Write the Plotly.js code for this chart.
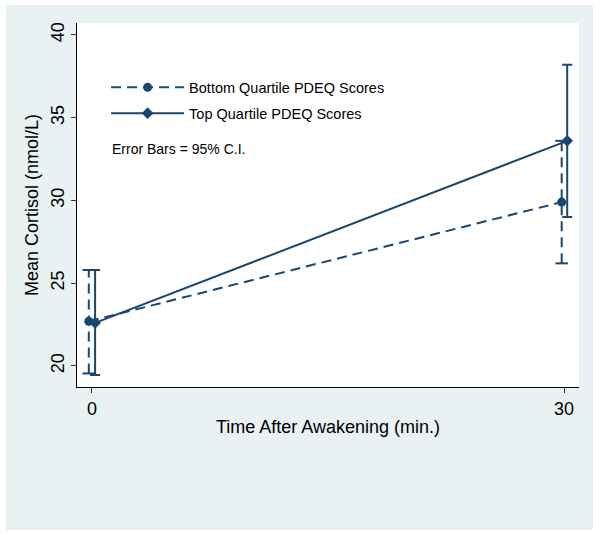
<!DOCTYPE html>
<html>
<head>
<meta charset="utf-8">
<script src="https://cdn.plot.ly/plotly-3.0.1.min.js"></script>
<style>
  html, body { margin: 0; padding: 0; background: #ffffff; width: 601px; height: 535px; overflow: hidden; }
  #chart { position: absolute; left: 6px; top: 5px; width: 587px; height: 525px; }
</style>
</head>
<body>
<div id="chart"></div>
<script>
// ---- data ----
const seriesNames = ["Bottom Quartile PDEQ Scores", "Top Quartile PDEQ Scores"];
const xTickVals = [0, 30];
const xTickText = ["0", "30"];
const yTickVals = [20, 25, 30, 35, 40];
const yTickText = ["20", "25", "30", "35", "40"];

const bottomX = [-0.2, 29.85];
const bottomMean = [22.7, 29.9];
const bottomLo = [19.55, 26.2];
const bottomHi = [25.8, 33.6];

const topX = [0.2, 30.2];
const topMean = [22.6, 33.6];
const topLo = [19.45, 29.0];
const topHi = [25.8, 38.2];

const navy = "#1a476f";

// dashed CI segments for the bottom series
const ciX = [], ciY = [], capX = [], capY = [];
for (let i = 0; i < bottomX.length; i++) {
  ciX.push(bottomX[i], bottomX[i], null);
  ciY.push(bottomLo[i], bottomHi[i], null);
  capX.push(bottomX[i], bottomX[i]);
  capY.push(bottomLo[i], bottomHi[i]);
}

const traces = [
  {
    x: ciX, y: ciY, mode: "lines", showlegend: false, hoverinfo: "skip",
    line: { color: navy, width: 2, dash: "10px,6px" }
  },
  {
    x: capX, y: capY, mode: "markers", showlegend: false, hoverinfo: "skip",
    marker: { symbol: "line-ew", size: 9, line: { color: navy, width: 2 } }
  },
  {
    x: topX, y: topMean, mode: "lines", showlegend: false, hoverinfo: "skip",
    line: { color: "rgba(0,0,0,0)", width: 0 },
    error_y: {
      type: "data", symmetric: false,
      array: topHi.map((v, i) => v - topMean[i]),
      arrayminus: topMean.map((v, i) => v - topLo[i]),
      color: navy, thickness: 2, width: 5
    }
  },
  {
    x: bottomX, y: bottomMean, name: seriesNames[0], mode: "lines+markers",
    legendgroup: "a",
    line: { color: navy, width: 2, dash: "10px,6px" },
    marker: { symbol: "circle", size: 9, color: navy }
  },
  {
    x: topX, y: topMean, name: seriesNames[1], mode: "lines+markers",
    legendgroup: "b",
    line: { color: navy, width: 2 },
    marker: { symbol: "diamond", size: 9, color: navy }
  }
];

const layout = {
  width: 587, height: 525,
  margin: { l: 71, r: 14, t: 18, b: 143 },
  paper_bgcolor: "#eaf1f3",
  plot_bgcolor: "#ffffff",
  font: { family: "Liberation Sans, Arial, sans-serif", color: "#000000" },
  showlegend: true,
  legend: {
    x: 0.058, y: 0.867, xanchor: "left", yanchor: "top",
    bgcolor: "rgba(0,0,0,0)",
    font: { size: 14.5, color: "#000000" },
    itemwidth: 73,
    traceorder: "grouped",
    tracegroupgap: 4
  },
  xaxis: {
    range: [-0.95, 30.95],
    tickvals: xTickVals, ticktext: xTickText,
    showgrid: false, zeroline: false,
    showline: true, linecolor: "#000000", linewidth: 1,
    ticks: "outside", ticklen: 5, tickcolor: "#333333", tickwidth: 1,
    tickfont: { size: 18, color: "#000000" },
    title: { text: "Time After Awakening (min.)", font: { size: 18, color: "#000000" }, standoff: 2 }
  },
  yaxis: {
    range: [18.73, 40.72],
    tickvals: yTickVals, ticktext: yTickText,
    tickangle: -90,
    showgrid: false, zeroline: false,
    showline: true, linecolor: "#000000", linewidth: 1,
    ticks: "outside", ticklen: 5, tickcolor: "#333333", tickwidth: 1,
    tickfont: { size: 18, color: "#000000" },
    title: { text: "Mean Cortisol (nmol/L)", font: { size: 18, color: "#000000" }, standoff: 4 }
  },
  annotations: [
    {
      text: "Error Bars = 95% C.I.", xref: "paper", yref: "paper",
      x: 0.066, y: 0.653, xanchor: "left", yanchor: "middle",
      showarrow: false, font: { size: 14, color: "#000000" }
    }
  ]
};

Plotly.newPlot("chart", traces, layout, { displayModeBar: false, staticPlot: true });
</script>
</body>
</html>
